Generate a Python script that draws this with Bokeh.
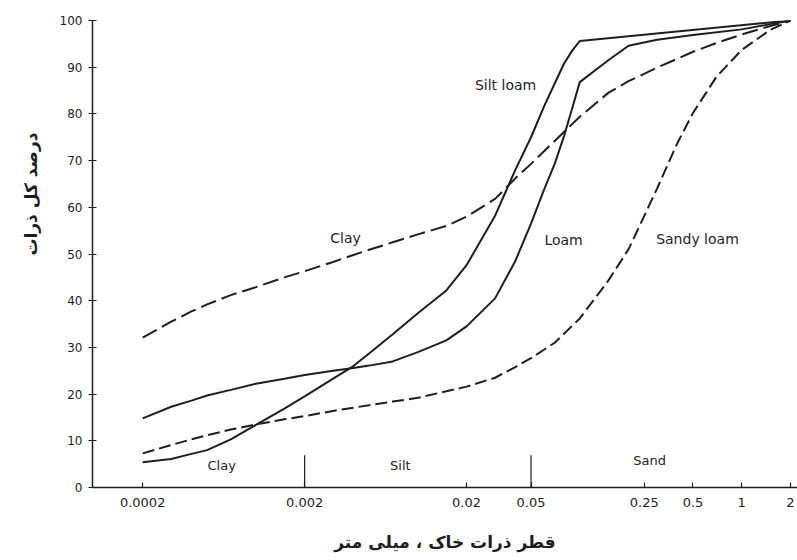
from bokeh.plotting import figure
from bokeh.models import FixedTicker, Title
from bokeh.core.properties import value
from bokeh.embed import file_html
from bokeh.resources import INLINE

# ---- data ----
silt_loam_d = [0.0002, 0.0003, 0.0004, 0.0005, 0.0007, 0.001, 0.0015, 0.002, 0.003, 0.004, 0.005,
               0.007, 0.01, 0.015, 0.02, 0.03, 0.04, 0.05, 0.06, 0.07, 0.08, 0.09, 0.1, 2]
silt_loam_p = [5.4, 6.1, 7.2, 8.0, 10.3, 13.4, 16.9, 19.5, 23.3, 26.0, 28.7,
               32.8, 37.3, 42.2, 47.6, 58.2, 68.0, 75.0, 81.5, 86.5, 90.8, 93.6, 95.6, 100]

loam_d = [0.0002, 0.0003, 0.0004, 0.0005, 0.0007, 0.001, 0.0015, 0.002, 0.003, 0.004, 0.005,
          0.007, 0.01, 0.015, 0.02, 0.03, 0.04, 0.05, 0.06, 0.07, 0.08, 0.09, 0.1, 0.15, 0.2,
          0.3, 0.5, 1, 2]
loam_p = [14.8, 17.3, 18.6, 19.7, 20.9, 22.2, 23.3, 24.1, 25.0, 25.6, 26.1,
          27.0, 29.0, 31.5, 34.5, 40.5, 48.5, 56.5, 63.7, 69.3, 75.3, 81.3, 86.8, 91.5, 94.6,
          95.9, 96.9, 98.1, 100]

clay_d = [0.0002, 0.0003, 0.0004, 0.0005, 0.0007, 0.001, 0.0015, 0.002, 0.003, 0.004, 0.005,
          0.007, 0.01, 0.015, 0.02, 0.03, 0.04, 0.05, 0.07, 0.1, 0.15, 0.2, 0.3, 0.5, 0.7,
          1, 1.5, 2]
clay_p = [32.1, 35.5, 37.7, 39.2, 41.2, 42.9, 45.0, 46.3, 48.3, 49.8, 50.9,
          52.5, 54.2, 56.0, 58.0, 61.8, 66.2, 69.3, 74.2, 79.4, 84.5, 87.0, 89.9, 93.3, 95.2,
          97.0, 98.8, 100]

sandy_loam_d = [0.0002, 0.0003, 0.0004, 0.0005, 0.0007, 0.001, 0.0015, 0.002, 0.003, 0.004, 0.005,
                0.007, 0.01, 0.015, 0.02, 0.03, 0.04, 0.05, 0.07, 0.1, 0.15, 0.2, 0.3, 0.4, 0.5,
                0.7, 1, 1.5, 2]
sandy_loam_p = [7.3, 9.1, 10.3, 11.2, 12.4, 13.5, 14.6, 15.3, 16.4, 17.1, 17.6,
                18.4, 19.2, 20.6, 21.6, 23.5, 25.8, 27.7, 31.0, 36.2, 44.3, 51.0, 64.0, 73.7, 80.2,
                88.0, 93.7, 98.0, 100]

x_ticks = [0.0002, 0.002, 0.02, 0.05, 0.25, 0.5, 1, 2]
x_tick_labels = ["0.0002", "0.002", "0.02", "0.05", "0.25", "0.5", "1", "2"]
y_ticks = [0, 10, 20, 30, 40, 50, 60, 70, 80, 90, 100]

boundary_d = [0.002, 0.05]
boundary_top = [6.9, 6.9]

class_names = ["Clay", "Silt", "Sand"]
class_x = [0.000615, 0.0078, 0.27]
class_y = [4.7, 4.7, 5.8]

curve_names = ["Silt loam", "Clay", "Loam", "Sandy loam"]
curve_label_x = [0.0348, 0.00358, 0.0794, 0.533]
curve_label_y = [86.1, 53.5, 52.9, 53.3]

x_title = "قطر ذرات خاک ، میلی متر"
y_title = "درصد کل ذرات"

INK = "#1e1e1e"
FONT = "DejaVu Sans"

p = figure(width=797, height=560, x_axis_type="log",
           x_range=(9.8e-5, 2.21), y_range=(0, 100),
           output_backend="svg", toolbar_location=None,
           min_border_left=92, min_border_right=0,
           min_border_top=20, min_border_bottom=73)
p.outline_line_color = None
p.xgrid.visible = False
p.ygrid.visible = False
p.background_fill_color = "white"
p.border_fill_color = "white"

# axes
p.xaxis.ticker = FixedTicker(ticks=x_ticks, minor_ticks=[])
p.xaxis.major_label_overrides = dict(zip(x_ticks, x_tick_labels))
p.xaxis.major_tick_in = 5
p.xaxis.major_tick_out = 0
p.xaxis.minor_tick_line_color = None
p.xaxis.major_label_standoff = 10
p.xaxis.major_label_text_font_size = "13px"
p.xaxis.axis_label = x_title
p.xaxis.axis_label_standoff = 22
p.xaxis.axis_label_text_font = FONT
p.xaxis.axis_label_text_font_size = "17px"
p.xaxis.axis_label_text_font_style = "bold"
p.xaxis.axis_label_text_color = INK

p.yaxis.ticker = FixedTicker(ticks=y_ticks, minor_ticks=[])
p.yaxis.major_tick_in = 4
p.yaxis.major_tick_out = 4
p.yaxis.minor_tick_line_color = None
p.yaxis.major_label_standoff = 6
p.yaxis.major_label_text_font_size = "12px"
for ax in (p.xaxis, p.yaxis):
    ax.axis_line_color = INK
    ax.axis_line_width = 1.5
    ax.major_tick_line_color = INK
    ax.major_tick_line_width = 1.2
    ax.major_label_text_font = FONT
    ax.major_label_text_color = INK

# y title, placed off-centre as in the reference
yt = Title(text=y_title, align="right", offset=112, standoff=32,
           text_font=FONT, text_font_size="17px", text_font_style="bold",
           text_color=INK)
p.add_layout(yt, "left")

# curves
p.line(silt_loam_d, silt_loam_p, line_color=INK, line_width=2)
p.line(loam_d, loam_p, line_color=INK, line_width=2)
p.line(clay_d, clay_p, line_color=INK, line_width=2, line_dash="16 6")
p.line(sandy_loam_d, sandy_loam_p, line_color=INK, line_width=2, line_dash="12 5")

# class boundaries
p.segment(x0=boundary_d, y0=[0, 0], x1=boundary_d, y1=boundary_top,
          line_color=INK, line_width=1.2)

p.text(x=class_x, y=class_y, text=class_names, text_font=value(FONT),
       text_font_size="13px", text_color=INK, text_align="center",
       text_baseline="middle")
p.text(x=curve_label_x, y=curve_label_y, text=curve_names, text_font=value(FONT),
       text_font_size="14px", text_color=INK, text_align="center",
       text_baseline="middle")

open("out.html", "w").write(file_html(p, INLINE))
